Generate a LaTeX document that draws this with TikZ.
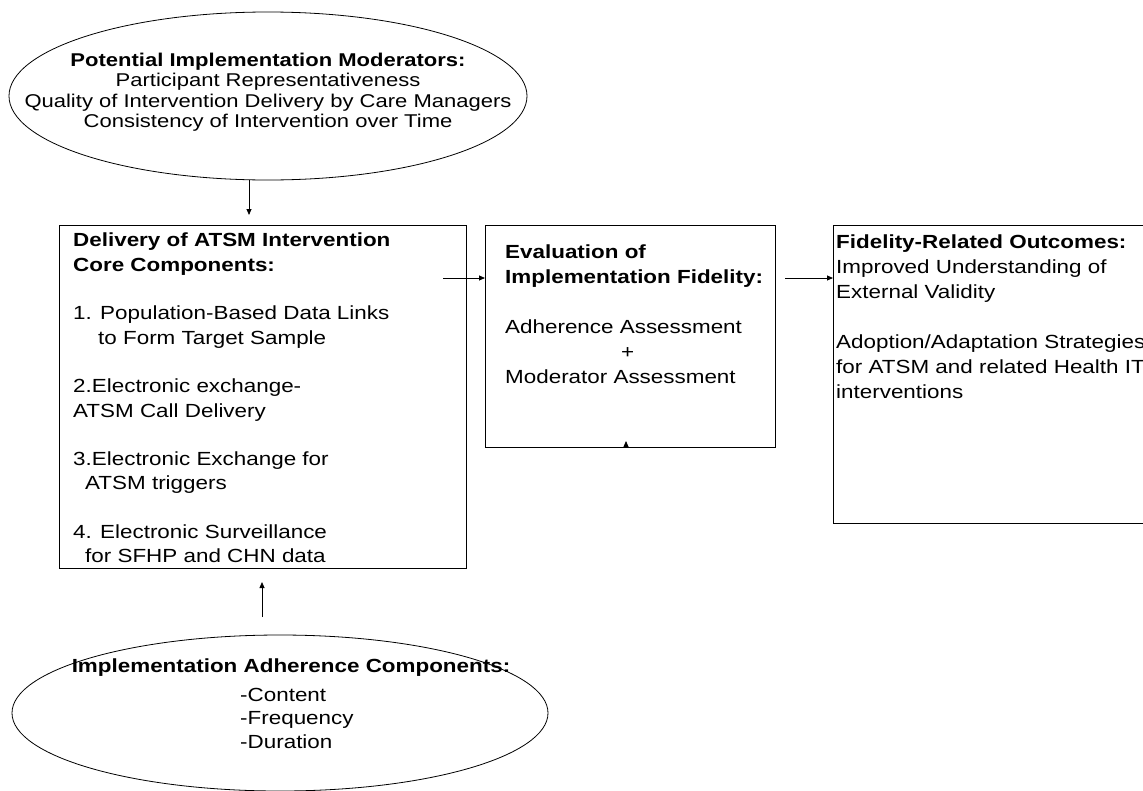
\documentclass[tikz,border=0pt]{standalone}
\usepackage{fontspec}
\setmainfont{Liberation Sans}
\newfontfamily\fEll[FakeStretch=1.19]{Liberation Sans}
\newfontfamily\fBox[FakeStretch=1.18]{Liberation Sans}
\usetikzlibrary{shapes.geometric,arrows.meta}
\begin{document}
\begin{tikzpicture}[x=1pt,y=-1pt,
  box/.style={draw,line width=0.9pt,inner sep=0pt,anchor=north west},
  oval/.style={draw,ellipse,line width=0.8pt,inner sep=0pt},
  txt/.style={inner sep=0pt,anchor=north west,align=left},
  arr/.style={-{Triangle[length=6pt,width=5pt]},line width=0.8pt}]
\clip (0,0) rectangle (1143,790);
\fill[white] (0,0) rectangle (1143,790);

% top ellipse
\node[oval,minimum width=518pt,minimum height=168pt] (te) at (268,96) {};
\node[inner sep=0pt,align=center,font=\fEll\fontsize{18.5}{20.5}\selectfont] (tet) at (268,92)
 {\textbf{Potential Implementation Moderators:}\\Participant Representativeness\\Quality of Intervention Delivery by Care Managers\\Consistency of Intervention over Time};

% left box
\node[box,minimum width=407pt,minimum height=343pt] (lb) at (59,225) {};
\node[txt,font=\fBox\fontsize{19}{24.3}\selectfont] (lbt) at (73,233)
 {\textbf{Delivery of ATSM Intervention}\\\textbf{Core Components:}\\[24.3pt]
  1. Population-Based Data Links\\\hspace*{25pt}to Form Target Sample\\[24.3pt]
  2.Electronic exchange-\\ATSM Call Delivery\\[24.3pt]
  3.Electronic Exchange for\\\hspace*{12pt}ATSM triggers\\[24.3pt]
  4. Electronic Surveillance\\\hspace*{12pt}for SFHP and CHN data};

% middle box
\node[box,minimum width=290pt,minimum height=222pt] (mb) at (485,225) {};
\node[txt,font=\fBox\fontsize{19}{25}\selectfont] (mbt) at (505,245)
 {\textbf{Evaluation of}\\\textbf{Implementation Fidelity:}\\[25pt]
  Adherence Assessment\\\hspace*{116pt}+\\Moderator Assessment};

% right box
\node[box,minimum width=330pt,minimum height=298pt] (rb) at (833,225) {};
\node[txt,font=\fBox\fontsize{19}{25}\selectfont] (rbt) at (836,235)
 {\textbf{Fidelity-Related Outcomes:}\\Improved Understanding of\\External Validity\\[25pt]
  Adoption/Adaptation Strategies\\for ATSM and related Health IT\\interventions};

% bottom ellipse
\node[oval,minimum width=536pt,minimum height=156pt] (be) at (280,713) {};
\node[inner sep=0pt,font=\fBox\bfseries\fontsize{19}{23.5}\selectfont] (btt) at (291,668)
 {Implementation Adherence Components:};
\node[txt,font=\fBox\fontsize{19}{23.5}\selectfont] (btl) at (240,688)
 {-Content\\-Frequency\\-Duration};

% connectors
\coordinate (t1) at (249,215);
\draw[arr] (te.south -| t1) -- (t1);
\coordinate (b1) at (262,617);
\coordinate (b2) at (262,582);
\draw[arr] (b1) -- (b2);
\coordinate (a1) at (443,278);
\draw[arr] (a1) -- (a1 -| mb.west);
\coordinate (a2) at (785,278);
\draw[arr] (a2) -- (a2 -| rb.west);
\coordinate (m1) at (626,447);
\coordinate (m2) at (626,441);
\draw[arr] (m1) -- (m2);
\end{tikzpicture}
\end{document}
